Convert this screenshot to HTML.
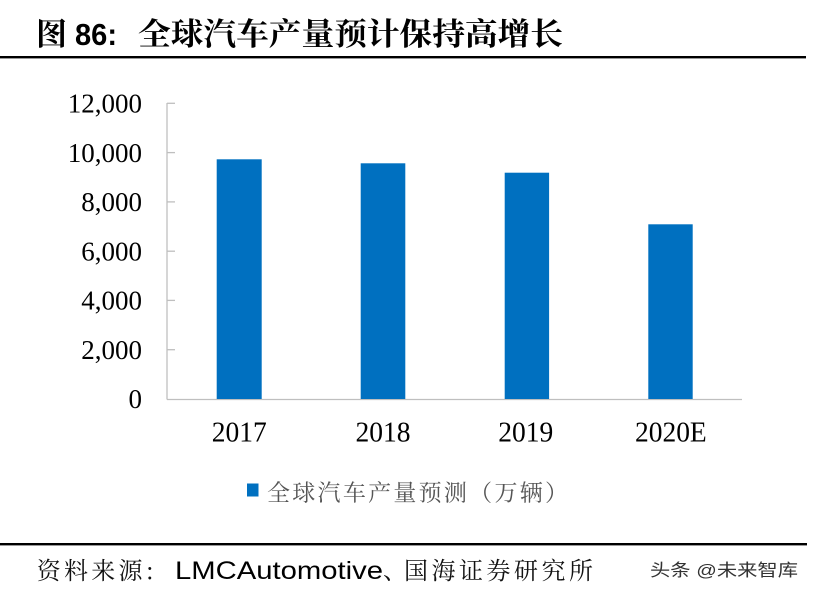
<!DOCTYPE html>
<html>
<head>
<meta charset="utf-8">
<style>
  html,body{margin:0;padding:0;background:#fff;}
  svg{display:block;}
</style>
</head>
<body>
<svg width="816" height="600" viewBox="0 0 816 600" xmlns="http://www.w3.org/2000/svg">
  <rect width="816" height="600" fill="#fff"/>

  <!-- Title -->
  <text x="36" y="45" font-family="'Noto Serif CJK SC','Liberation Serif',serif" font-weight="bold" font-size="31" fill="#000">图</text>
  <text x="75" y="45" font-family="'Liberation Sans',sans-serif" font-weight="bold" font-size="31" fill="#000" textLength="42" lengthAdjust="spacingAndGlyphs">86:</text>
  <text x="138" y="45" font-family="'Noto Serif CJK SC','Liberation Serif',serif" font-weight="bold" font-size="31" fill="#000" textLength="425" lengthAdjust="spacingAndGlyphs">全球汽车产量预计保持高增长</text>
  <rect x="0" y="56" width="806" height="2.4" fill="#000"/>

  <!-- Axes -->
  <line x1="167" y1="103" x2="167" y2="399.5" stroke="#bfbfbf" stroke-width="1.3"/>
  <line x1="167" y1="399.5" x2="742" y2="399.5" stroke="#bfbfbf" stroke-width="1.3"/>
  <g stroke="#bfbfbf" stroke-width="1.3">
    <line x1="167" y1="103.3" x2="175" y2="103.3"/>
    <line x1="167" y1="152.6" x2="175" y2="152.6"/>
    <line x1="167" y1="201.9" x2="175" y2="201.9"/>
    <line x1="167" y1="251.2" x2="175" y2="251.2"/>
    <line x1="167" y1="300.4" x2="175" y2="300.4"/>
    <line x1="167" y1="349.7" x2="175" y2="349.7"/>
  </g>

  <!-- Y labels -->
  <g font-family="'Liberation Serif',serif" font-size="27" fill="#000" text-anchor="end">
    <text x="142" y="112.5">12,000</text>
    <text x="142" y="161.8">10,000</text>
    <text x="142" y="211.1">8,000</text>
    <text x="142" y="260.4">6,000</text>
    <text x="142" y="309.6">4,000</text>
    <text x="142" y="358.9">2,000</text>
    <text x="142" y="408.2">0</text>
  </g>

  <!-- Bars -->
  <g fill="#0070c0">
    <rect x="216.7" y="159.3" width="45" height="239.7"/>
    <rect x="360.7" y="163.3" width="44.6" height="235.7"/>
    <rect x="504.7" y="172.7" width="44.4" height="226.3"/>
    <rect x="648.3" y="224.3" width="44.4" height="174.7"/>
  </g>

  <!-- X labels -->
  <g font-family="'Liberation Serif',serif" font-size="28" fill="#000">
    <text x="211.7" y="441.7" textLength="55" lengthAdjust="spacingAndGlyphs">2017</text>
    <text x="355.5" y="441.7" textLength="55" lengthAdjust="spacingAndGlyphs">2018</text>
    <text x="498.3" y="441.7" textLength="55" lengthAdjust="spacingAndGlyphs">2019</text>
    <text x="635" y="441.7" textLength="71.7" lengthAdjust="spacingAndGlyphs">2020E</text>
  </g>

  <!-- Legend -->
  <rect x="247" y="483.5" width="11.5" height="13" fill="#0070c0"/>
  <text x="267" y="500.5" font-family="'Noto Serif CJK SC','Liberation Serif',serif" font-size="23" fill="#555" textLength="301" lengthAdjust="spacing">全球汽车产量预测（万辆）</text>

  <!-- Footer -->
  <rect x="0" y="543" width="807" height="2.4" fill="#000"/>
  <text x="36.7" y="579" font-family="'Noto Serif CJK SC','Liberation Serif',serif" font-size="24" fill="#111" textLength="117" lengthAdjust="spacing">资料来源:</text>
  <text x="175" y="579" font-family="'Liberation Sans',sans-serif" font-size="25" fill="#000" textLength="208" lengthAdjust="spacingAndGlyphs">LMCAutomotive</text>
  <text x="383" y="579" font-family="'Noto Serif CJK SC','Liberation Serif',serif" font-size="24" fill="#111">、</text>
  <text x="404" y="579" font-family="'Noto Serif CJK SC','Liberation Serif',serif" font-size="24" fill="#111" textLength="189" lengthAdjust="spacing">国海证券研究所</text>

  <!-- Watermark -->
  <text x="650" y="576" font-family="'Liberation Sans','Noto Sans CJK SC',sans-serif" font-size="17" fill="#333" textLength="148" lengthAdjust="spacingAndGlyphs">头条 @未来智库</text>
</svg>
</body>
</html>
